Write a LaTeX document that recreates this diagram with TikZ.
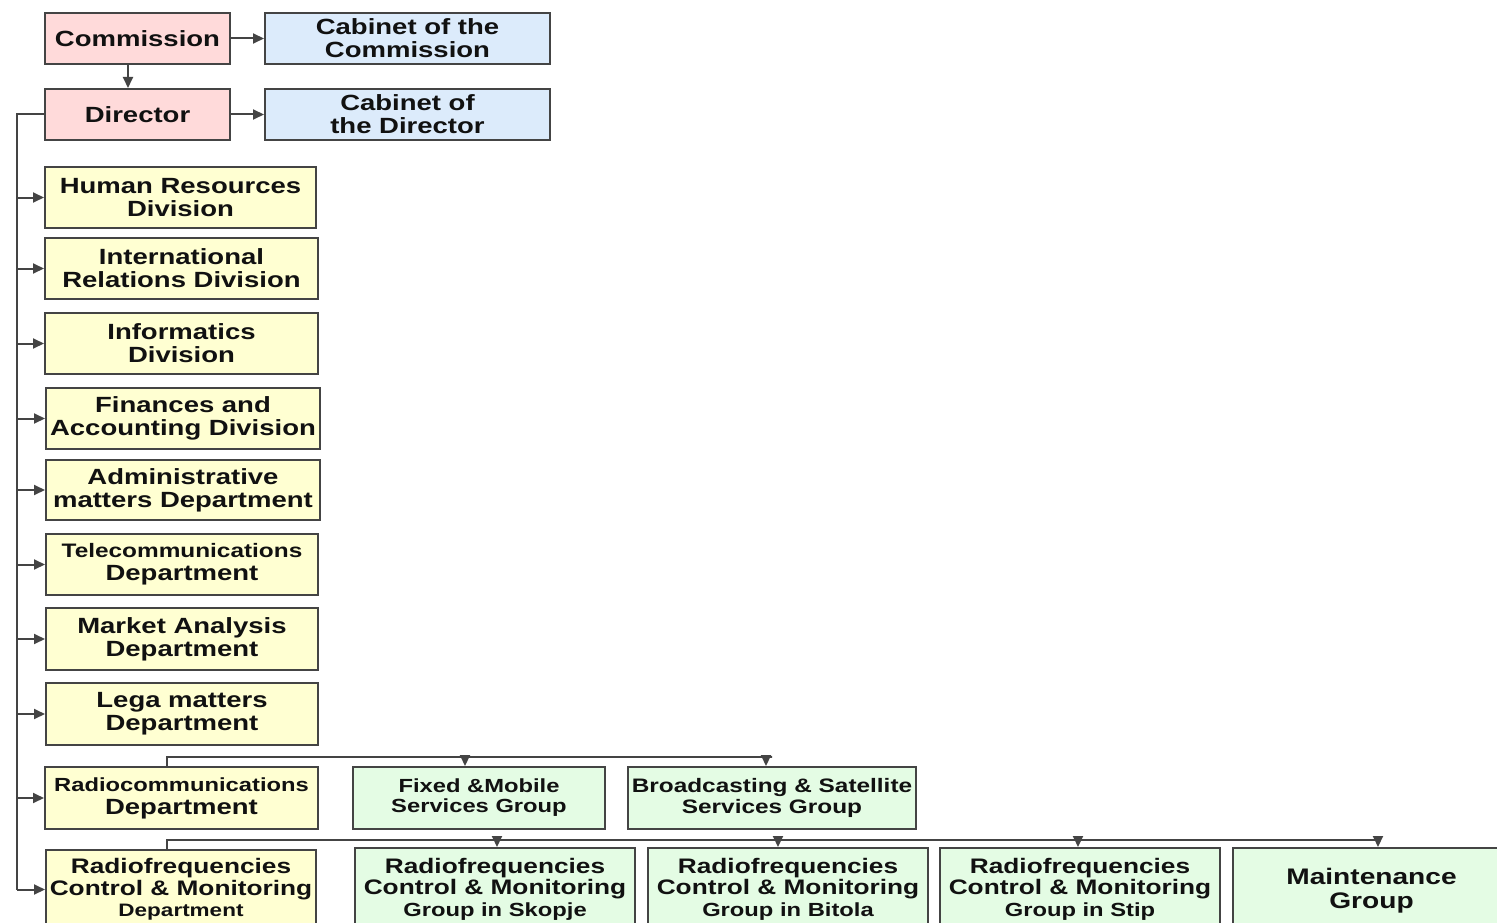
\documentclass[tikz,border=0pt]{standalone}
\usepackage{fontspec}
\setmainfont{Liberation Sans}[FakeStretch=1.25]
\usetikzlibrary{arrows.meta,calc}
\definecolor{pinkf}{HTML}{FFDADA}
\definecolor{bluef}{HTML}{DCEBFB}
\definecolor{yelf}{HTML}{FFFFD2}
\definecolor{grnf}{HTML}{E4FCE4}
\definecolor{edge}{HTML}{444444}
\definecolor{txt}{HTML}{111111}
\newcommand{\fsz}[1]{\fontsize{#1}{#1}\selectfont}
\begin{document}
\begin{tikzpicture}[x=1pt,y=-1pt,
  box/.style={draw=edge,line width=2pt,rectangle,inner sep=0pt,align=center,text=txt,
    font=\bfseries\fontsize{22}{23}\selectfont},
  pinkbox/.style={box,fill=pinkf},
  bluebox/.style={box,fill=bluef},
  yelbox/.style={box,fill=yelf},
  grnbox/.style={box,fill=grnf},
  ln/.style={draw=edge,line width=2pt},
  arr/.style={ln,-{Triangle[length=11pt,width=10pt]}}]
\useasboundingbox (0,0) rectangle (1497,923);
\begin{scope}
\clip (0,0) rectangle (1497,923);
% top
\node[pinkbox,minimum width=185,minimum height=51] (com) at (137.5,38.5) {Commission};
\node[bluebox,minimum width=285,minimum height=51] (cabc) at (407.5,38.5) {Cabinet of the\\Commission};
\node[pinkbox,minimum width=185,minimum height=51] (dir) at (137.5,114.5) {Director};
\node[bluebox,minimum width=285,minimum height=51] (cabd) at (407.5,114.5) {Cabinet of\\the Director};
% left column
\node[yelbox,minimum width=271,minimum height=61] (hr) at (180.5,197.5) {Human Resources\\Division};
\node[yelbox,minimum width=273,minimum height=61] (ir) at (181.5,268.5) {International\\Relations Division};
\node[yelbox,minimum width=273,minimum height=61] (inf) at (181.5,343.5) {Informatics\\Division};
\node[yelbox,minimum width=274,minimum height=61] (fin) at (183,418.5) {Finances and\\Accounting Division};
\node[yelbox,minimum width=274,minimum height=60] (adm) at (183,490) {Administrative\\matters Department};
\node[yelbox,minimum width=272,minimum height=61] (tel) at (182,564.5) {{\fsz{19.5}Telecommunications}\\Department};
\node[yelbox,minimum width=272,minimum height=62] (mkt) at (182,639) {Market Analysis\\Department};
\node[yelbox,minimum width=272,minimum height=62] (leg) at (182,714) {Lega matters\\Department};
\node[yelbox,minimum width=273,minimum height=62] (rad) at (181.5,798) {{\fsz{19}Radiocommunications}\\Department};
\node[grnbox,minimum width=252,minimum height=62,font=\bfseries\fontsize{19}{20}\selectfont] (fm) at (479,798) {Fixed \&Mobile\\Services Group};
\node[grnbox,minimum width=288,minimum height=62,font=\bfseries\fontsize{19.5}{21}\selectfont] (bs) at (772,798) {Broadcasting \& Satellite\\Services Group};
% bottom row
\node[yelbox,minimum width=270,minimum height=80,font=\bfseries\fontsize{21}{21.5}\selectfont] (rfd) at (181,889.5) {Radiofrequencies\\Control \& Monitoring\\{\fsz{18}Department}};
\node[grnbox,minimum width=280,minimum height=82,font=\bfseries\fontsize{21}{21.5}\selectfont] (sk) at (495,889) {Radiofrequencies\\Control \& Monitoring\\{\fsz{19}Group in Skopje}};
\node[grnbox,minimum width=280,minimum height=82,font=\bfseries\fontsize{21}{21.5}\selectfont] (bt) at (788,889) {Radiofrequencies\\Control \& Monitoring\\{\fsz{19}Group in Bitola}};
\node[grnbox,minimum width=280,minimum height=82,font=\bfseries\fontsize{21}{21.5}\selectfont] (st) at (1080,889) {Radiofrequencies\\Control \& Monitoring\\{\fsz{19}Group in Stip}};
\node[grnbox,minimum width=277,minimum height=85,font=\bfseries\fontsize{22.5}{24}\selectfont] (mt) at (1371.5,890.5) {Maintenance\\Group};
% connectors top
\draw[arr] (com.east) -- (cabc.west);
\draw[arr] ([xshift=-9.5pt]com.south) -- ([xshift=-9.5pt]dir.north);
\draw[arr] (dir.east) -- (cabd.west);
% trunk
\coordinate (t0) at (17,114.5);
\draw[ln] (dir.west) -- (t0) -- (t0 |- rfd.west);
\foreach \n in {hr,ir,inf,fin,adm,tel,mkt,leg,rad,rfd}
  \draw[arr] (t0 |- \n.west) -- (\n.west);
% radiocommunications branch
\coordinate (rb) at (167,757);
\draw[ln] ([xshift=-14.5pt]rad.north) -- (rb) -- (rb -| bs.north) -- ++(-6,0);
\draw[arr] ($(rb -| fm.north)+(-14,0)$) -- ([xshift=-14pt]fm.north);
\draw[arr] ($(rb -| bs.north)+(-6,0)$) -- ([xshift=-6pt]bs.north);
% radiofrequencies branch
\coordinate (fb) at (167,840);
\draw[ln] ([xshift=-14pt]rfd.north) -- (fb) -- ($(fb -| mt.north)+(6.5,0)$);
\draw[arr] ($(fb -| sk.north)+(2,0)$) -- ([xshift=2pt]sk.north);
\draw[arr] ($(fb -| bt.north)+(-10,0)$) -- ([xshift=-10pt]bt.north);
\draw[arr] ($(fb -| st.north)+(-2,0)$) -- ([xshift=-2pt]st.north);
\draw[arr] ($(fb -| mt.north)+(6.5,0)$) -- ([xshift=6.5pt]mt.north);
\end{scope}
\end{tikzpicture}
\end{document}
